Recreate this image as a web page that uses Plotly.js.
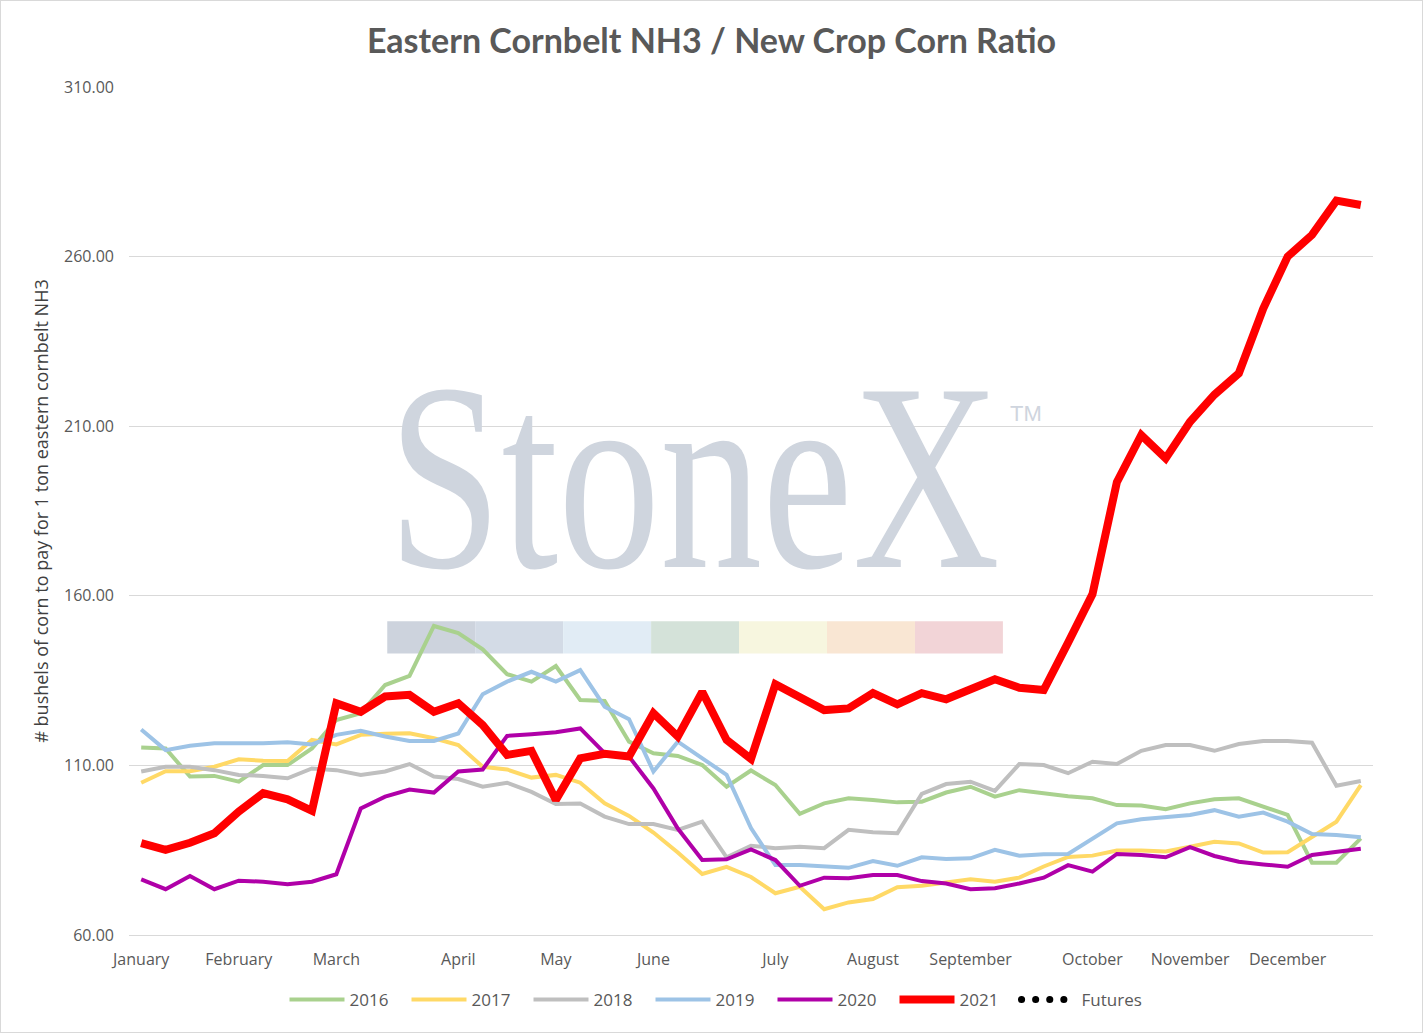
<!DOCTYPE html>
<html>
<head>
<meta charset="utf-8">
<script src="https://cdn.plot.ly/plotly-3.0.1.min.js"></script>
<style>
  html, body { margin: 0; padding: 0; background: #ffffff; }
  #wrap { position: relative; width: 1423px; height: 1033px; }
  #chart { width: 1423px; height: 1033px; }
  #frame { position: absolute; left: 0; top: 0; right: 0; bottom: 0;
           border: 1px solid #d9d9d9; pointer-events: none; }
</style>
</head>
<body>
<div id="wrap">
  <div id="chart"></div>
  <div id="frame"></div>
</div>
<script>
// Weekly ratio, one point per week (51 weeks); ticks only at the first week of each month
const monthLabels = ["January", "February", "March", "April", "May", "June",
                     "July", "August", "September", "October", "November", "December"];
const monthWeeks = [0, 4, 8, 13, 17, 21, 26, 30, 34, 39, 43, 47];

const y2016 = [115.3, 115.0, 106.7, 106.9, 105.2, 110.1, 110.1, 115.0, 123.4, 125.4,
               133.7, 136.4, 151.1, 149.0, 144.2, 136.9, 134.7, 139.3, 129.3, 129.0,
               117.0, 113.6, 112.8, 110.1, 103.7, 108.5, 104.2, 95.7, 98.8, 100.3,
               99.8, 99.1, 99.3, 102.0, 103.7, 100.8, 102.7, 101.7, 100.9, 100.3,
               98.3, 98.2, 97.1, 98.8, 100.0, 100.3, 97.8, 95.4, 81.3, 81.3, 88.5];
const y2017 = [104.9, 108.3, 108.3, 109.6, 111.8, 111.4, 111.3, 117.5, 116.2, 119.0,
               119.3, 119.5, 118.0, 116.0, 109.6, 108.8, 106.4, 107.2, 104.9, 98.8,
               95.1, 90.2, 84.3, 78.0, 80.1, 77.1, 72.3, 74.2, 67.6, 69.6,
               70.6, 74.1, 74.5, 75.5, 76.4, 75.7, 76.9, 80.2, 83.0, 83.4,
               84.9, 84.9, 84.6, 86.0, 87.5, 87.0, 84.3, 84.4, 88.8, 93.4, 104.2];
const y2018 = [108.2, 109.6, 109.6, 108.6, 107.2, 106.9, 106.2, 109.1, 108.6, 107.2,
               108.2, 110.4, 106.7, 106.0, 103.7, 104.9, 102.2, 98.6, 98.8, 94.9,
               92.7, 92.7, 91.0, 93.4, 82.9, 86.3, 85.6, 86.0, 85.6, 91.0,
               90.3, 90.0, 101.6, 104.5, 105.2, 102.5, 110.4, 110.1, 107.7, 111.1,
               110.4, 114.3, 116.0, 116.0, 114.3, 116.3, 117.2, 117.2, 116.7, 104.0, 105.4];
const y2019 = [120.6, 114.5, 115.8, 116.5, 116.5, 116.5, 116.8, 116.2, 119.0, 120.2,
               118.5, 117.2, 117.2, 119.4, 131.0, 134.7, 137.6, 134.7, 138.1, 127.3,
               123.6, 108.2, 117.0, 112.1, 107.2, 91.5, 80.6, 80.6, 80.1, 79.8,
               81.8, 80.4, 82.9, 82.4, 82.6, 85.1, 83.4, 83.8, 83.9, 88.5,
               92.9, 94.1, 94.7, 95.4, 96.8, 94.9, 96.1, 93.4, 89.8, 89.5, 88.8];
const y2020 = [76.4, 73.5, 77.4, 73.5, 76.0, 75.7, 75.0, 75.7, 77.9, 97.3,
               100.8, 102.9, 102.0, 108.2, 108.8, 118.7, 119.2, 119.8, 120.9, 113.6,
               112.6, 103.2, 91.4, 82.1, 82.3, 85.2, 82.1, 74.5, 76.9, 76.7,
               77.7, 77.7, 75.9, 75.2, 73.5, 73.8, 75.2, 76.9, 80.6, 78.7,
               83.9, 83.6, 82.9, 85.9, 83.3, 81.6, 80.8, 80.1, 83.6, 84.6, 85.4];
const y2021 = [87.1, 85.1, 87.2, 90.0, 96.4, 101.8, 100.0, 96.6, 128.3, 125.8,
               130.3, 130.8, 125.8, 128.3, 121.9, 113.1, 114.3, 99.8, 112.1, 113.4,
               112.6, 125.4, 118.5, 131.7, 117.5, 111.9, 133.9, 129.8, 126.3, 126.8,
               131.3, 128.0, 131.3, 129.5, 132.7, 135.4, 132.9, 132.2, 146.2, 160.5,
               193.5, 207.4, 200.5, 211.3, 219.3, 225.6, 244.7, 260.0, 266.4, 276.5, 275.2];

const weeks = y2021.map((_, i) => i);
// no futures values are drawn on the chart, the series only shows up in the legend
const futures = weeks.map(() => null);

const seriesList = [
    { name: "2016", y: y2016, color: "#a9d18e", width: 4 },
    { name: "2017", y: y2017, color: "#ffd966", width: 4 },
    { name: "2018", y: y2018, color: "#bfbfbf", width: 4 },
    { name: "2019", y: y2019, color: "#9dc3e6", width: 4 },
    { name: "2020", y: y2020, color: "#b000a8", width: 4 },
    { name: "2021", y: y2021, color: "#ff0000", width: 8 },
];

const traces = seriesList.map((s) => ({
    x: weeks,
    y: s.y,
    mode: "lines",
    name: s.name,
    line: { color: s.color, width: s.width },
    hovertemplate: s.name + ": %{y:.2f}<extra></extra>",
}));

traces.push({
    x: weeks,
    y: futures,
    mode: "lines",
    name: "Futures",
    showlegend: true,
    line: { color: "#000000", width: 6, dash: "6px,8px" },
});

const textGray = "#595959";
const font = "'Open Sans', 'DejaVu Sans', sans-serif";

// pale colour strip under the watermark
const stripColors = ["#cdd3dd", "#d3dbe6", "#e1ecf5", "#d4e2d9", "#f7f6df", "#f9e6d3", "#f2d4d7"];
const stripShapes = stripColors.map((c, i) => ({
    type: "rect",
    layer: "below",
    xref: "paper",
    yref: "paper",
    x0: 0.2076 + i * 0.0707,
    x1: 0.2076 + (i + 1) * 0.0707,
    y0: 0.332,
    y1: 0.370,
    fillcolor: c,
    line: { width: 0 },
}));

const layout = {
    width: 1423,
    height: 1033,
    paper_bgcolor: "#ffffff",
    plot_bgcolor: "#ffffff",
    margin: { l: 129, r: 50, t: 87, b: 98 },
    font: { family: font, color: textGray, size: 16 },
    title: {
        text: "<b>Eastern Cornbelt NH3 / New Crop Corn Ratio</b>",
        font: { family: "Lato, 'Open Sans', sans-serif", size: 34, color: textGray },
        x: 0.5,
        xref: "container",
        y: 0.960,
        yref: "container",
        yanchor: "middle",
    },
    xaxis: {
        range: [-0.5, 50.5],
        tickmode: "array",
        tickvals: monthWeeks,
        ticktext: monthLabels,
        showgrid: false,
        zeroline: false,
        showline: true,
        linecolor: "#d9d9d9",
        linewidth: 1,
        ticks: "",
        ticklabelstandoff: 10,
        tickfont: { family: font, size: 16, color: textGray },
    },
    yaxis: {
        range: [60, 310],
        tick0: 60,
        dtick: 50,
        tickformat: ".2f",
        showgrid: true,
        gridcolor: "#d9d9d9",
        gridwidth: 1,
        zeroline: false,
        showline: false,
        ticks: "",
        ticklabelstandoff: 14,
        tickfont: { family: font, size: 16, color: textGray },
        title: {
            text: "# bushels of corn to pay for 1 ton eastern cornbelt NH3",
            font: { family: font, size: 18, color: "#404040" },
            standoff: 10,
        },
    },
    legend: {
        orientation: "h",
        xref: "container",
        yref: "container",
        x: 0.5,
        xanchor: "center",
        y: 0.032,
        yanchor: "middle",
        itemwidth: 55,
        entrywidth: 52,
        entrywidthmode: "pixels",
        font: { family: font, size: 17, color: textGray },
    },
    shapes: stripShapes,
    annotations: [
        {
            text: "StoneX",
            xref: "paper",
            yref: "paper",
            x: 0.4543,
            y: 0.541,
            xanchor: "center",
            yanchor: "middle",
            showarrow: false,
            font: { family: "'Liberation Serif', 'DejaVu Serif', serif", size: 268, color: "#cfd5de" },
        },
        {
            text: "TM",
            xref: "paper",
            yref: "paper",
            x: 0.7211,
            y: 0.6144,
            xanchor: "center",
            yanchor: "middle",
            showarrow: false,
            font: { family: "'Liberation Sans Narrow', 'Liberation Sans', sans-serif", size: 22, color: "#cfd5de" },
        },
    ],
};

const config = { displayModeBar: false, responsive: false };

const chart = document.getElementById("chart");
Plotly.newPlot(chart, traces, layout, config).then(function () {
    // the logo is a condensed serif: squeeze it horizontally round its centre
    document.querySelectorAll(".annotation-text").forEach(function (el) {
        if (el.textContent === "StoneX") {
            const box = el.getBBox();
            const cx = box.x + box.width / 2;
            const k = 612 / box.width;
            el.setAttribute("transform",
                "translate(" + cx + ",0) scale(" + k + ",1) translate(" + (-cx) + ",0)");
        }
    });
    // the last legend label is wider than the fixed entry width, let it show in full
    document.querySelectorAll(".legend [clip-path]").forEach(function (el) {
        el.removeAttribute("clip-path");
    });
    // round dots for the Futures legend sample
    document.querySelectorAll(".legend .traces").forEach(function (g) {
        if (g.textContent.indexOf("Futures") >= 0) {
            g.querySelectorAll("path.js-line").forEach(function (p) {
                p.style.strokeDasharray = "0.1px,14px";
                p.style.strokeLinecap = "round";
                p.style.strokeWidth = "7px";
            });
        }
    });
});
</script>
</body>
</html>
